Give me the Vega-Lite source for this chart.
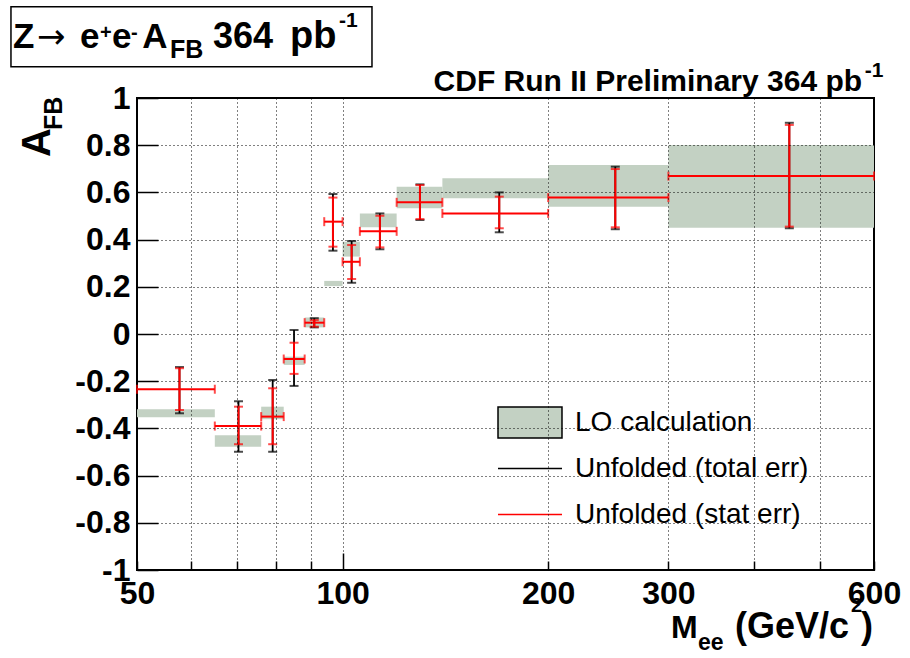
{
  "$schema": "https://vega.github.io/schema/vega-lite/v6.json",
  "width": 737,
  "height": 472,
  "autosize": {"type": "none"},
  "padding": {"left": 137, "top": 98, "right": 36, "bottom": 88},
  "background": "white",
  "datasets": {
    "afb": [
      {"m_lo": 50, "m_hi": 65, "m": 57.7, "afb": -0.234, "stat_lo": -0.322, "stat_hi": -0.145, "tot_lo": -0.336, "tot_hi": -0.14, "lo_calc_lo": -0.353, "lo_calc_hi": -0.319},
      {"m_lo": 65, "m_hi": 76, "m": 70.4, "afb": -0.39, "stat_lo": -0.467, "stat_hi": -0.308, "tot_lo": -0.499, "tot_hi": -0.285, "lo_calc_lo": -0.478, "lo_calc_hi": -0.429},
      {"m_lo": 76, "m_hi": 82, "m": 79.0, "afb": -0.35, "stat_lo": -0.467, "stat_hi": -0.23, "tot_lo": -0.499, "tot_hi": -0.195, "lo_calc_lo": -0.361, "lo_calc_hi": -0.308},
      {"m_lo": 82, "m_hi": 88, "m": 84.9, "afb": -0.106, "stat_lo": -0.169, "stat_hi": -0.037, "tot_lo": -0.22, "tot_hi": 0.017, "lo_calc_lo": -0.131, "lo_calc_hi": -0.096},
      {"m_lo": 88, "m_hi": 94, "m": 90.9, "afb": 0.048, "stat_lo": 0.031, "stat_hi": 0.059, "tot_lo": 0.028, "tot_hi": 0.067, "lo_calc_lo": 0.028, "lo_calc_hi": 0.07},
      {"m_lo": 94, "m_hi": 100, "m": 96.8, "afb": 0.476, "stat_lo": 0.37, "stat_hi": 0.578, "tot_lo": 0.353, "tot_hi": 0.593, "lo_calc_lo": 0.203, "lo_calc_hi": 0.225},
      {"m_lo": 100, "m_hi": 106, "m": 103.1, "afb": 0.306, "stat_lo": 0.233, "stat_hi": 0.377, "tot_lo": 0.217, "tot_hi": 0.394, "lo_calc_lo": 0.328, "lo_calc_hi": 0.391},
      {"m_lo": 106, "m_hi": 120, "m": 113.4, "afb": 0.435, "stat_lo": 0.367, "stat_hi": 0.501, "tot_lo": 0.359, "tot_hi": 0.511, "lo_calc_lo": 0.452, "lo_calc_hi": 0.511},
      {"m_lo": 120, "m_hi": 140, "m": 129.8, "afb": 0.558, "stat_lo": 0.487, "stat_hi": 0.631, "tot_lo": 0.483, "tot_hi": 0.634, "lo_calc_lo": 0.533, "lo_calc_hi": 0.624},
      {"m_lo": 140, "m_hi": 200, "m": 169.6, "afb": 0.511, "stat_lo": 0.448, "stat_hi": 0.582, "tot_lo": 0.431, "tot_hi": 0.6, "lo_calc_lo": 0.575, "lo_calc_hi": 0.66},
      {"m_lo": 200, "m_hi": 300, "m": 250.8, "afb": 0.578, "stat_lo": 0.452, "stat_hi": 0.699, "tot_lo": 0.444, "tot_hi": 0.709, "lo_calc_lo": 0.539, "lo_calc_hi": 0.716},
      {"m_lo": 300, "m_hi": 600, "m": 451, "afb": 0.669, "stat_lo": 0.455, "stat_hi": 0.886, "tot_lo": 0.448, "tot_hi": 0.895, "lo_calc_lo": 0.45, "lo_calc_hi": 0.801}
    ],
    "one": [{}]
  },
  "data": {"name": "afb"},
  "config": {
    "font": "Liberation Sans",
    "view": {"stroke": "black", "strokeWidth": 2}
  },
  "layer": [
    {
      "mark": {"type": "rect"},
      "encoding": {
        "x": {
          "field": "m_lo", "type": "quantitative",
          "scale": {"type": "log", "domain": [50, 600], "nice": false},
          "axis": {
            "orient": "bottom", "title": null,
            "values": [50, 60, 70, 80, 90, 100, 200, 300, 400, 500, 600],
            "labelExpr": "indexof([50,100,200,300,600], datum.value) >= 0 ? '' + datum.value : ''",
            "labelFlush": false, "labelOverlap": false, "labelBound": false,
            "labelFontSize": 32, "labelFontWeight": "bold", "labelColor": "black",
            "labelPadding": {"condition": {"test": "datum.value === 100", "value": 25}, "value": 17},
            "tickSize": {"condition": {"test": "datum.value === 100", "value": -17}, "value": -9},
            "tickColor": "black", "tickWidth": 1.5,
            "domain": false,
            "grid": true, "gridColor": "black", "gridDash": [1, 3], "gridWidth": 1,
            "gridOpacity": {"condition": {"test": "datum.value > 50 && datum.value < 600", "value": 1}, "value": 0},
            "zindex": 1
          }
        },
        "x2": {"field": "m_hi"},
        "y": {
          "field": "lo_calc_lo", "type": "quantitative",
          "scale": {"domain": [-1, 1], "nice": false, "zero": false},
          "axis": {
            "orient": "left", "title": null,
            "values": [-1, -0.95, -0.9, -0.85, -0.8, -0.75, -0.7, -0.65, -0.6, -0.55, -0.5, -0.45, -0.4, -0.35, -0.3, -0.25, -0.2, -0.15, -0.1, -0.05, 0, 0.05, 0.1, 0.15, 0.2, 0.25, 0.3, 0.35, 0.4, 0.45, 0.5, 0.55, 0.6, 0.65, 0.7, 0.75, 0.8, 0.85, 0.9, 0.95, 1],
            "labelExpr": "abs(datum.value*5 - round(datum.value*5)) < 0.001 ? '' + datum.value : ''",
            "labelFlush": false, "labelOverlap": false, "labelBound": false,
            "labelFontSize": 32, "labelFontWeight": "bold", "labelColor": "black",
            "labelPadding": 28,
            "tickSize": {"condition": {"test": "abs(datum.value*5 - round(datum.value*5)) < 0.001", "value": -21}, "value": -10},
            "tickColor": "black", "tickWidth": 1.5,
            "domain": false,
            "grid": true, "gridColor": "black", "gridDash": [1, 3], "gridWidth": 1,
            "gridOpacity": {"condition": {"test": "abs(datum.value*5 - round(datum.value*5)) < 0.001 && abs(datum.value) < 0.99", "value": 1}, "value": 0},
            "zindex": 1
          }
        },
        "y2": {"field": "lo_calc_hi"},
        "color": {
          "datum": "LO calculation", "type": "nominal",
          "scale": {"domain": ["LO calculation", "Unfolded (total err)", "Unfolded (stat err)"], "range": ["#c3d1c3", "black", "red"]},
          "legend": {
            "orient": "none", "legendX": 377, "legendY": 308.5,
            "title": null, "padding": 0,
            "symbolSize": 900, "symbolStrokeWidth": 1.5,
            "labelFontSize": 28, "labelFont": "Liberation Sans", "labelColor": "black", "labelLimit": 400,
            "labelOffset": 29, "rowPadding": 8,
            "encode": {
              "symbols": {
                "update": {
                  "shape": [{"test": "datum.value === 'LO calculation'", "value": "M-2.133,-1.033H2.133V1.033H-2.133Z"}, {"value": "M0,-1.033M-2.133,0H2.133M0,1.033"}],
                  "stroke": [{"test": "datum.value === 'Unfolded (stat err)'", "value": "red"}, {"value": "black"}],
                  "strokeWidth": {"value": 1.5},
                  "opacity": {"value": 1},
                  "size": {"value": 900}
                }
              }
            }
          }
        }
      }
    },
    {
      "mark": {"type": "rule", "strokeWidth": 1.8, "color": "black"},
      "encoding": {
        "x": {"field": "m", "type": "quantitative"},
        "y": {"field": "tot_lo", "type": "quantitative"},
        "y2": {"field": "tot_hi"}
      }
    },
    {
      "mark": {"type": "tick", "orient": "horizontal", "size": 9, "thickness": 2, "color": "black"},
      "encoding": {
        "x": {"field": "m", "type": "quantitative"},
        "y": {"field": "tot_lo", "type": "quantitative"}
      }
    },
    {
      "mark": {"type": "tick", "orient": "horizontal", "size": 9, "thickness": 2, "color": "black"},
      "encoding": {
        "x": {"field": "m", "type": "quantitative"},
        "y": {"field": "tot_hi", "type": "quantitative"}
      }
    },
    {
      "mark": {"type": "rule", "strokeWidth": 2, "color": "red"},
      "encoding": {
        "x": {"field": "m", "type": "quantitative"},
        "y": {"field": "stat_lo", "type": "quantitative"},
        "y2": {"field": "stat_hi"}
      }
    },
    {
      "mark": {"type": "tick", "orient": "horizontal", "size": 9, "thickness": 2, "color": "red"},
      "encoding": {
        "x": {"field": "m", "type": "quantitative"},
        "y": {"field": "stat_lo", "type": "quantitative"}
      }
    },
    {
      "mark": {"type": "tick", "orient": "horizontal", "size": 9, "thickness": 2, "color": "red"},
      "encoding": {
        "x": {"field": "m", "type": "quantitative"},
        "y": {"field": "stat_hi", "type": "quantitative"}
      }
    },
    {
      "mark": {"type": "rule", "strokeWidth": 2, "color": "red"},
      "encoding": {
        "x": {"field": "m_lo", "type": "quantitative"},
        "x2": {"field": "m_hi"},
        "y": {"field": "afb", "type": "quantitative"}
      }
    },
    {
      "mark": {"type": "tick", "orient": "vertical", "size": 9, "thickness": 2, "color": "red"},
      "encoding": {
        "x": {"field": "m_lo", "type": "quantitative"},
        "y": {"field": "afb", "type": "quantitative"}
      }
    },
    {
      "mark": {"type": "tick", "orient": "vertical", "size": 9, "thickness": 2, "color": "red"},
      "encoding": {
        "x": {"field": "m_hi", "type": "quantitative"},
        "y": {"field": "afb", "type": "quantitative"}
      }
    },
    {
      "data": {"name": "one"},
      "mark": {"type": "rect", "fill": "white", "stroke": "black", "strokeWidth": 1.5},
      "encoding": {
        "x": {"datum": 32.69, "type": "quantitative"},
        "x2": {"datum": 110.42},
        "y": {"datum": 1.3869, "type": "quantitative"},
        "y2": {"datum": 1.1326}
      }
    },
    {
      "data": {"name": "one"},
      "mark": {"type": "text", "text": "Z", "fontSize": 35, "fontWeight": "bold", "align": "left", "baseline": "alphabetic", "fill": "black"},
      "encoding": {"x": {"datum": 32.92, "type": "quantitative"}, "y": {"datum": 1.2119, "type": "quantitative"}}
    },
    {
      "data": {"name": "one"},
      "mark": {"type": "text", "text": "→", "font": "DejaVu Sans", "fontSize": 34, "fontWeight": "normal", "align": "left", "baseline": "alphabetic", "fill": "black"},
      "encoding": {"x": {"datum": 35.69, "type": "quantitative"}, "y": {"datum": 1.2119, "type": "quantitative"}}
    },
    {
      "data": {"name": "one"},
      "mark": {"type": "text", "text": "e", "fontSize": 35, "fontWeight": "bold", "align": "left", "baseline": "alphabetic", "fill": "black"},
      "encoding": {"x": {"datum": 41.26, "type": "quantitative"}, "y": {"datum": 1.2119, "type": "quantitative"}}
    },
    {
      "data": {"name": "one"},
      "mark": {"type": "text", "text": "+", "fontSize": 20, "fontWeight": "bold", "align": "left", "baseline": "alphabetic", "fill": "black"},
      "encoding": {"x": {"datum": 44.14, "type": "quantitative"}, "y": {"datum": 1.25, "type": "quantitative"}}
    },
    {
      "data": {"name": "one"},
      "mark": {"type": "text", "text": "e", "fontSize": 35, "fontWeight": "bold", "align": "left", "baseline": "alphabetic", "fill": "black"},
      "encoding": {"x": {"datum": 45.96, "type": "quantitative"}, "y": {"datum": 1.2119, "type": "quantitative"}}
    },
    {
      "data": {"name": "one"},
      "mark": {"type": "text", "text": "-", "fontSize": 20, "fontWeight": "bold", "align": "left", "baseline": "alphabetic", "fill": "black"},
      "encoding": {"x": {"datum": 49.0, "type": "quantitative"}, "y": {"datum": 1.25, "type": "quantitative"}}
    },
    {
      "data": {"name": "one"},
      "mark": {"type": "text", "text": "A", "fontSize": 35, "fontWeight": "bold", "align": "left", "baseline": "alphabetic", "fill": "black"},
      "encoding": {"x": {"datum": 50.9, "type": "quantitative"}, "y": {"datum": 1.2119, "type": "quantitative"}}
    },
    {
      "data": {"name": "one"},
      "mark": {"type": "text", "text": "FB", "fontSize": 25, "fontWeight": "bold", "align": "left", "baseline": "alphabetic", "fill": "black"},
      "encoding": {"x": {"datum": 55.89, "type": "quantitative"}, "y": {"datum": 1.1695, "type": "quantitative"}}
    },
    {
      "data": {"name": "one"},
      "mark": {"type": "text", "text": "364", "fontSize": 36, "fontWeight": "bold", "align": "left", "baseline": "alphabetic", "fill": "black"},
      "encoding": {"x": {"datum": 64.6, "type": "quantitative"}, "y": {"datum": 1.2119, "type": "quantitative"}}
    },
    {
      "data": {"name": "one"},
      "mark": {"type": "text", "text": "pb", "fontSize": 38, "fontWeight": "bold", "align": "left", "baseline": "alphabetic", "fill": "black"},
      "encoding": {"x": {"datum": 83.75, "type": "quantitative"}, "y": {"datum": 1.2119, "type": "quantitative"}}
    },
    {
      "data": {"name": "one"},
      "mark": {"type": "text", "text": "-1", "fontSize": 21, "fontWeight": "bold", "align": "left", "baseline": "alphabetic", "fill": "black"},
      "encoding": {"x": {"datum": 98.81, "type": "quantitative"}, "y": {"datum": 1.3008, "type": "quantitative"}}
    },
    {
      "data": {"name": "one"},
      "mark": {"type": "text", "text": "CDF Run II Preliminary 364 pb", "fontSize": 30, "fontWeight": "bold", "align": "right", "baseline": "alphabetic", "fill": "black"},
      "encoding": {"x": {"datum": 576.3, "type": "quantitative"}, "y": {"datum": 1.0297, "type": "quantitative"}}
    },
    {
      "data": {"name": "one"},
      "mark": {"type": "text", "text": "-1", "fontSize": 21, "fontWeight": "bold", "align": "left", "baseline": "alphabetic", "fill": "black"},
      "encoding": {"x": {"datum": 581.5, "type": "quantitative"}, "y": {"datum": 1.089, "type": "quantitative"}}
    },
    {
      "data": {"name": "one"},
      "mark": {"type": "text", "text": "A", "fontSize": 40, "fontWeight": "bold", "align": "left", "baseline": "alphabetic", "angle": 270, "fill": "black"},
      "encoding": {"x": {"datum": 37.3, "type": "quantitative"}, "y": {"datum": 0.75, "type": "quantitative"}}
    },
    {
      "data": {"name": "one"},
      "mark": {"type": "text", "text": "FB", "fontSize": 25, "fontWeight": "bold", "align": "left", "baseline": "alphabetic", "angle": 270, "fill": "black"},
      "encoding": {"x": {"datum": 38.82, "type": "quantitative"}, "y": {"datum": 0.8644, "type": "quantitative"}}
    },
    {
      "data": {"name": "one"},
      "mark": {"type": "text", "text": "M", "fontSize": 32, "fontWeight": "bold", "align": "left", "baseline": "alphabetic", "fill": "black"},
      "encoding": {"x": {"datum": 302.65, "type": "quantitative"}, "y": {"datum": -1.2881, "type": "quantitative"}}
    },
    {
      "data": {"name": "one"},
      "mark": {"type": "text", "text": "ee", "fontSize": 23, "fontWeight": "bold", "align": "left", "baseline": "alphabetic", "fill": "black"},
      "encoding": {"x": {"datum": 331.5, "type": "quantitative"}, "y": {"datum": -1.339, "type": "quantitative"}}
    },
    {
      "data": {"name": "one"},
      "mark": {"type": "text", "text": "(GeV/c", "fontSize": 36, "fontWeight": "bold", "align": "left", "baseline": "alphabetic", "fill": "black"},
      "encoding": {"x": {"datum": 375.6, "type": "quantitative"}, "y": {"datum": -1.2881, "type": "quantitative"}}
    },
    {
      "data": {"name": "one"},
      "mark": {"type": "text", "text": "2", "fontSize": 20, "fontWeight": "bold", "align": "left", "baseline": "alphabetic", "fill": "black"},
      "encoding": {"x": {"datum": 555.3, "type": "quantitative"}, "y": {"datum": -1.178, "type": "quantitative"}}
    },
    {
      "data": {"name": "one"},
      "mark": {"type": "text", "text": ")", "fontSize": 36, "fontWeight": "bold", "align": "left", "baseline": "alphabetic", "fill": "black"},
      "encoding": {"x": {"datum": 574.3, "type": "quantitative"}, "y": {"datum": -1.2881, "type": "quantitative"}}
    }
  ]
}
